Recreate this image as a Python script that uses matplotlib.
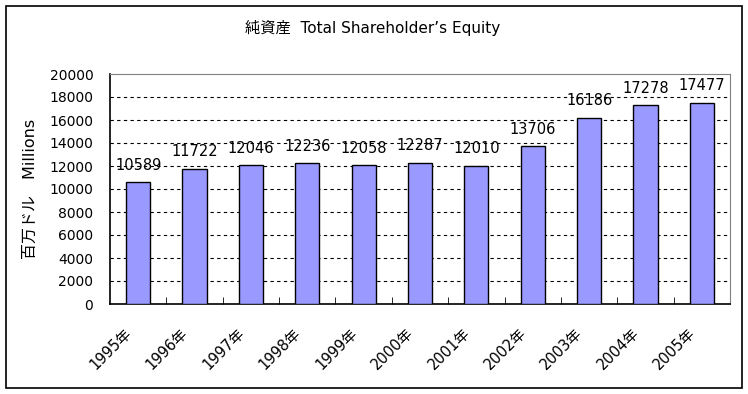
import matplotlib.pyplot as plt
from matplotlib.patches import Rectangle
from matplotlib.transforms import ScaledTranslation

plt.rcParams['font.family'] = ['DejaVu Sans', 'Noto Sans CJK JP']

years = ['1995年', '1996年', '1997年', '1998年', '1999年', '2000年',
         '2001年', '2002年', '2003年', '2004年', '2005年']
equity = [10589, 11722, 12046, 12236, 12058, 12287, 12010, 13706, 16186, 17278, 17477]

fig = plt.figure(figsize=(7.48, 3.94), dpi=100)
fig.patches.append(Rectangle((6 / 748, 6 / 394), 736 / 748, 382 / 394, transform=fig.transFigure,
                             fill=False, edgecolor='black', linewidth=1.2))
ax = fig.add_axes([110 / 748, 1 - 304 / 394, 620 / 748, 230 / 394])

x = list(range(len(years)))
ax.bar(x, equity, width=0.43, color='#9999ff', edgecolor='black', linewidth=1, zorder=3)
for xi, v in zip(x, equity):
    ax.annotate(str(v), (xi, v), xytext=(0, 7), textcoords='offset points',
                ha='center', va='bottom', fontsize=10.5, zorder=4)

ax.set_xlim(-0.5, len(years) - 0.5)
ax.set_ylim(0, 20000)
ax.set_yticks(range(0, 20001, 2000))
ax.tick_params(axis='y', length=0, labelsize=10, pad=12)
ax.set_xticks([i - 0.5 for i in range(1, len(years))], minor=True)
ax.set_xticks(x)
ax.set_xticklabels(years, rotation=45, ha='right', va='center', rotation_mode='anchor', fontsize=10.5)
ax.tick_params(axis='x', which='major', length=0, pad=19)
ax.tick_params(axis='x', which='minor', direction='in', length=5, color='black')
shift = ScaledTranslation(-9 / 100, 0, fig.dpi_scale_trans)
for lbl in ax.get_xticklabels():
    lbl.set_transform(lbl.get_transform() + shift)
for y in range(2000, 20000, 2000):
    ax.axhline(y, color='black', linestyle=(0, (3, 3)), linewidth=0.8, zorder=1)

ax.spines['top'].set_color('#808080')
ax.spines['right'].set_color('#808080')
ax.spines['left'].set_color('black')
ax.spines['bottom'].set_color('black')
ax.spines['left'].set_linewidth(1.2)
ax.spines['bottom'].set_linewidth(1.2)

ax.set_ylabel('百万ドル　Millions', fontsize=11.5, labelpad=8)
fig.text(373 / 748, 1 - 28 / 394, '純資産  Total Shareholder\u2019s Equity', ha='center', va='center', fontsize=11)

fig.savefig('out.png', dpi=100)
